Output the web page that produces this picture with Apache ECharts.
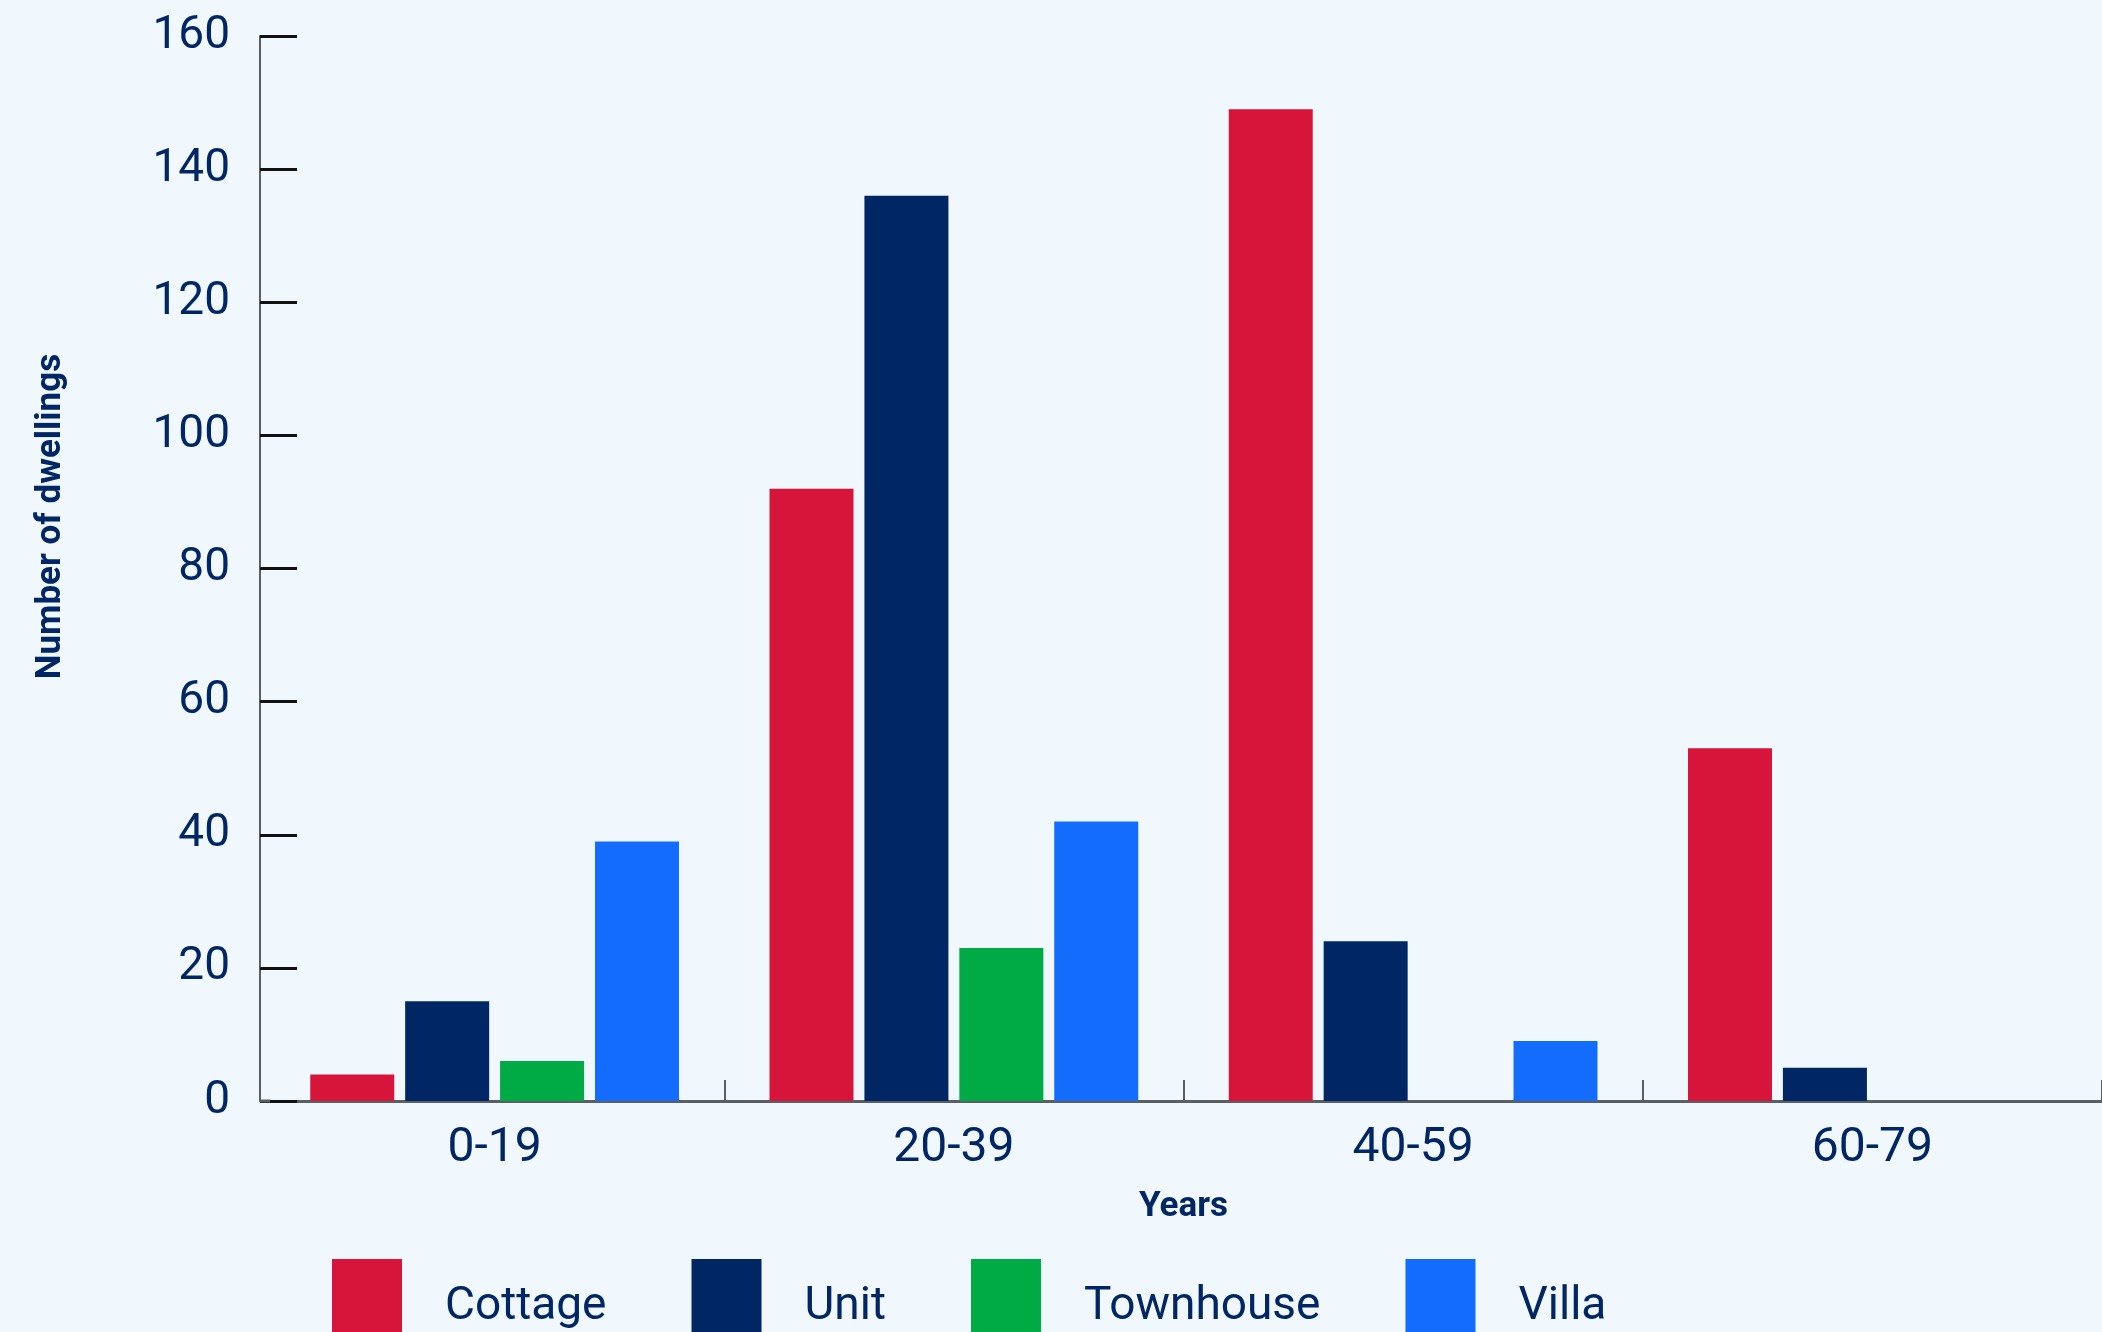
<!DOCTYPE html>
<html>
<head>
<meta charset="utf-8">
<script src="https://cdn.jsdelivr.net/npm/echarts@6/dist/echarts.min.js"></script>
<style>
html,body{margin:0;padding:0;background:#F0F8FE;}
#chart{width:2102px;height:1332px;}
</style>
</head>
<body>
<div id="chart"></div>
<script>
const categories = ['0-19', '20-39', '40-59', '60-79'];
const cottage = [4, 92, 149, 53];
const unit = [15, 136, 24, 5];
const townhouse = [6, 23, 0, 0];
const villa = [39, 42, 9, 0];
const seriesNames = ['Cottage', 'Unit', 'Townhouse', 'Villa'];
const seriesColors = ['#D7153A', '#002664', '#00AA45', '#146CFD'];
const yTicks = { min: 0, max: 160, interval: 20 };

const textColor = '#002664';
const font = 'Roboto';
const chart = echarts.init(document.getElementById('chart'));
const seriesData = [cottage, unit, townhouse, villa];

chart.setOption({
  animation: false,
  backgroundColor: '#F0F8FE',
  grid: { left: 265, right: -5, top: 36, bottom: 231, containLabel: false },
  legend: {
    data: seriesNames,
    left: 332,
    top: 1259,
    padding: 0,
    itemWidth: 70,
    itemHeight: 96,
    itemGap: 85,
    icon: 'rect',
    textStyle: { color: textColor, fontSize: 46, fontFamily: font, padding: [0, 0, 0, 38] }
  },
  xAxis: {
    type: 'category',
    data: categories,
    name: 'Years',
    nameLocation: 'middle',
    nameGap: 89,
    nameTextStyle: { color: textColor, fontSize: 35, fontWeight: 'bold', fontFamily: font },
    axisLine: { show: true, symbol: ['rect', 'none'], symbolSize: [3, 10], lineStyle: { color: '#5A5F64', width: 3 } },
    axisTick: { show: true, inside: true, length: 21, interval: (i) => i !== 0, lineStyle: { color: '#5A5F64', width: 2 } },
    axisLabel: { color: textColor, fontSize: 48, fontFamily: font, margin: 24 },
    splitLine: { show: false }
  },
  yAxis: {
    type: 'value',
    min: yTicks.min,
    max: yTicks.max,
    interval: yTicks.interval,
    offset: 5,
    name: 'Number of dwellings',
    nameLocation: 'middle',
    nameGap: 191,
    nameTextStyle: { color: textColor, fontSize: 35, fontWeight: 'bold', fontFamily: font, padding: [0, 0, 0, 104] },
    axisLine: { show: true, lineStyle: { color: '#5A5F64', width: 2 } },
    axisTick: { show: true, inside: true, length: 37, lineStyle: { color: '#111111', width: 3 } },
    axisLabel: { color: textColor, fontSize: 46, fontFamily: font, margin: 30 },
    splitLine: { show: false }
  },
  series: seriesNames.map((n, i) => ({
    name: n,
    type: 'bar',
    data: seriesData[i],
    barWidth: 84,
    barGap: '13%',
    itemStyle: { color: seriesColors[i] }
  }))
});
</script>
</body>
</html>
